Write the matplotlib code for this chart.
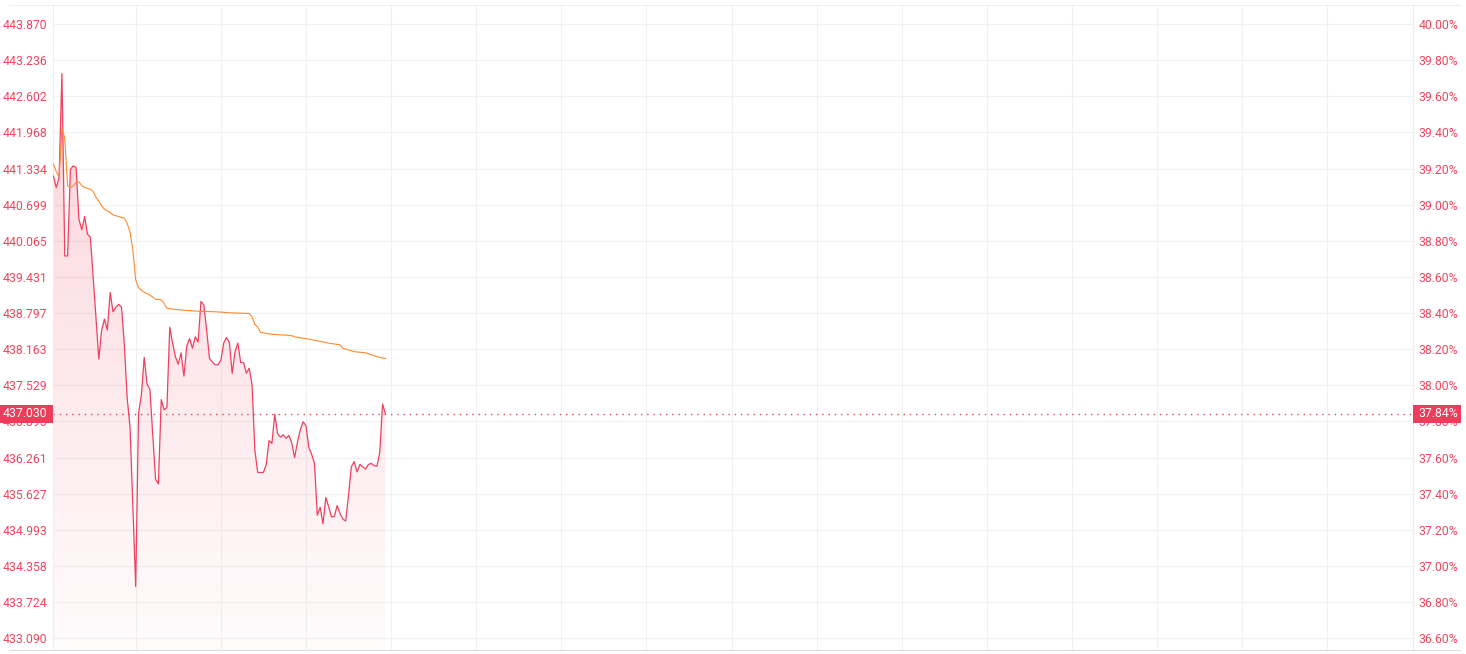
import matplotlib.pyplot as plt
import matplotlib.transforms as mtransforms
import numpy as np
from matplotlib.lines import Line2D
from matplotlib.patches import PathPatch, Rectangle

plt.rcParams['font.family'] = ['Roboto', 'DejaVu Sans']

# minutes after the open (30 s samples)
times = [0.5, 1.0, 1.5, 2.0, 2.5, 3.0, 3.5, 4.0, 4.5, 5.0, 5.5, 6.0, 6.5, 7.0, 7.5,
         8.5, 9.0, 9.5, 10.0, 10.5, 11.0, 11.5, 12.0, 12.5, 13.0, 13.5, 14.0, 15.0,
         15.5, 16.0, 16.5, 17.0, 17.5, 18.5, 19.0, 19.5, 20.0, 20.5, 21.0, 21.5, 22.0,
         22.5, 23.0, 23.5, 24.0, 24.5, 25.0, 25.5, 26.0, 26.5, 27.0, 27.5, 28.0, 28.5,
         29.0, 29.5, 30.0, 30.5, 31.0, 31.5, 32.0, 32.5, 33.0, 33.5, 34.0, 34.5, 35.0,
         35.5, 36.0, 36.5, 37.5, 38.0, 38.5, 39.0, 39.5, 40.0, 40.5, 41.0, 41.5, 42.0,
         42.5, 43.0, 43.5, 44.0, 44.5, 45.0, 45.5, 46.0, 46.5, 47.0, 47.5, 48.0, 48.5,
         49.0, 49.5, 50.0, 50.5, 51.0, 51.5, 52.0, 52.5, 53.0, 53.5, 54.0, 54.5, 55.0,
         55.5, 56.0, 56.5, 57.0, 57.5, 58.0, 58.5, 59.0]
prices = [441.20, 441.00, 441.18, 443.00, 439.80, 439.80, 441.32, 441.38, 441.35, 440.44,
          440.26, 440.49, 440.18, 440.13, 439.44, 437.99, 438.50, 438.69, 438.50, 439.16,
          438.82, 438.90, 438.95, 438.90, 438.24, 437.30, 436.80, 434.00, 437.04, 437.36,
          438.02, 437.55, 437.46, 435.88, 435.80, 437.28, 437.10, 437.14, 438.55, 438.27,
          438.03, 437.90, 438.10, 437.69, 438.22, 438.35, 438.18, 438.38, 438.29, 439.00,
          438.94, 438.50, 438.00, 437.94, 437.89, 437.89, 437.97, 438.27, 438.37, 438.28,
          437.74, 438.12, 438.27, 437.93, 437.93, 437.74, 437.83, 437.54, 436.39, 436.00,
          436.00, 436.14, 436.56, 436.51, 437.02, 436.68, 436.62, 436.66, 436.60, 436.65,
          436.52, 436.26, 436.53, 436.75, 436.89, 436.82, 436.44, 436.32, 436.16, 435.25,
          435.39, 435.10, 435.56, 435.40, 435.22, 435.23, 435.42, 435.28, 435.18, 435.15,
          435.60, 436.10, 436.19, 436.01, 436.14, 436.10, 436.06, 436.14, 436.16, 436.12,
          436.11, 436.35, 437.20, 437.03]

avg_times = [0.5, 1.0, 1.5, 2.0, 2.5, 3.0, 3.5, 4.0, 4.5, 5.0, 5.5, 6.0, 7.0, 7.5, 8.0,
             9.0, 9.5, 10.5, 11.0, 12.0, 13.0, 13.5, 14.0, 14.5, 15.0, 15.5, 16.5, 17.0,
             18.0, 18.5, 19.5, 20.0, 20.5, 23.0, 26.0, 29.0, 32.0, 35.0, 35.5, 36.0, 36.5,
             37.0, 38.0, 39.5, 41.5, 42.5, 43.0, 45.5, 47.5, 49.0, 51.0, 51.5, 53.5, 55.5,
             57.5, 59.0]
avg_prices = [441.41, 441.28, 441.19, 442.04, 441.86, 441.03, 441.00, 441.03, 441.09, 441.10,
              441.03, 441.00, 440.97, 440.93, 440.83, 440.68, 440.62, 440.56, 440.52, 440.49,
              440.46, 440.37, 440.22, 439.90, 439.38, 439.24, 439.16, 439.14, 439.08, 439.04,
              439.03, 438.97, 438.88, 438.85, 438.83, 438.82, 438.80, 438.79, 438.73, 438.60,
              438.55, 438.46, 438.44, 438.42, 438.41, 438.40, 438.38, 438.34, 438.30, 438.27,
              438.24, 438.18, 438.12, 438.10, 438.03, 438.00]

left_ticks = [433.090, 433.724, 434.358, 434.993, 435.627, 436.261, 436.895, 437.529,
              438.163, 438.797, 439.431, 440.065, 440.699, 441.334, 441.968, 442.602,
              443.236, 443.870]
right_ticks = [36.60, 36.80, 37.00, 37.20, 37.40, 37.60, 37.80, 38.00, 38.20, 38.40,
               38.60, 38.80, 39.00, 39.20, 39.40, 39.60, 39.80, 40.00]
time_grid = [15, 30, 45, 60, 75, 90, 105, 120, 135, 150, 165, 180, 195, 210, 225, 240]

RED = '#f0405e'
LABEL = '#f0465f'
ORANGE = '#ff8a2e'
W, H = 1466, 654


def to_pct(v):
    step_v = (left_ticks[-1] - left_ticks[0]) / (len(left_ticks) - 1)
    step_p = (right_ticks[-1] - right_ticks[0]) / (len(right_ticks) - 1)
    return right_ticks[0] + (v - left_ticks[0]) / step_v * step_p


fig = plt.figure(figsize=(W / 100, H / 100), dpi=100)
ax = fig.add_axes([53.3 / W, 4 / H, 1359.3 / W, 645 / H])
ylim = (432.885, 444.203)
ax.set_xlim(0.48, 240)
ax.set_ylim(*ylim)

ax.set_xticks(time_grid)
ax.set_yticks(left_ticks)
ax.set_yticklabels([f'{t:.3f}' for t in left_ticks])
ax.tick_params(axis='x', length=0, labelbottom=False)
ax.tick_params(axis='y', length=0, pad=4.2, labelsize=8.8, labelcolor=LABEL)
ax.grid(True, color='#f1f1f1', lw=0.8)
ax.set_axisbelow(True)
for side in ['top', 'bottom']:
    ax.spines[side].set_visible(False)
for side in ['left', 'right']:
    ax.spines[side].set_color('#eeeeee')
    ax.spines[side].set_linewidth(0.8)

# gradient fill under the price line
poly = ax.fill_between(times, prices, ylim[0], color='none', lw=0)
clip = PathPatch(poly.get_paths()[0], transform=ax.transData, facecolor='none', edgecolor='none')
ax.add_patch(clip)
grad = np.zeros((256, 1, 4))
grad[:, 0, :3] = (240 / 255, 64 / 255, 94 / 255)
grad[:, 0, 3] = np.linspace(0.25, 0.02, 256)
im = ax.imshow(grad, extent=[0.48, 240, ylim[0], ylim[1]], aspect='auto', origin='upper', zorder=1)
im.set_clip_path(clip)

ax.plot(times, prices, color=RED, lw=0.9, zorder=3)
ax.plot(avg_times, avg_prices, color=ORANGE, lw=0.8, zorder=3)

last = prices[-1]
ax.axhline(last, color=RED, lw=1.0, ls=(0, (1, 3.5)), zorder=2)

ax2 = ax.twinx()
ax2.set_ylim(to_pct(ylim[0]), to_pct(ylim[1]))
ax2.set_yticks(right_ticks)
ax2.set_yticklabels([f'{t:.2f}%' for t in right_ticks])
ax2.tick_params(axis='y', length=0, pad=4.1, labelsize=8.8, labelcolor=LABEL)
for s in ax2.spines.values():
    s.set_visible(False)

# current value tags
trans = mtransforms.blended_transform_factory(fig.transFigure, ax.transData)
box_h = 17.7 / (645 / (ylim[1] - ylim[0]))
fig.add_artist(Rectangle((0, last - box_h / 2), 53.3 / W, box_h, transform=trans,
                         facecolor='#ee3c5a', edgecolor='none', zorder=5))
fig.add_artist(Rectangle((1412.6 / W, last - box_h / 2), 48.5 / W, box_h, transform=trans,
                         facecolor='#ee3c5a', edgecolor='none', zorder=5))
fig.text(47.3 / W, last, f'{last:.3f}', transform=trans, ha='right', va='center',
         color='white', fontsize=8.8, zorder=6)
fig.text(1418.3 / W, last, f'{to_pct(last):.2f}%', transform=trans, ha='left', va='center',
         color='white', fontsize=8.8, zorder=6)

# top and bottom rules
fig.add_artist(Line2D([9 / W, 1460 / W], [1 - 5 / H, 1 - 5 / H], transform=fig.transFigure,
                      color='#eeeeee', lw=0.8))
fig.add_artist(Line2D([9 / W, 1460 / W], [4 / H, 4 / H], transform=fig.transFigure,
                      color='#dedede', lw=0.8))

fig.savefig('out.png', dpi=100)
